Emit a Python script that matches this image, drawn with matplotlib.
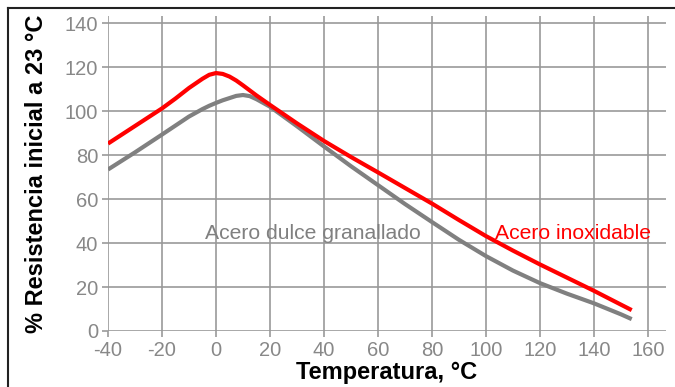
import numpy as np
import matplotlib
matplotlib.use("Agg")
import matplotlib.pyplot as plt
from matplotlib.lines import Line2D

plt.rcParams['font.family'] = ['Liberation Sans', 'DejaVu Sans']
plt.rcParams['axes.unicode_minus'] = False

# values
temp = [-40, -30, -20, -15, -10, -5, -2.5, 0, 2.5, 5, 7.5, 10, 12.5, 15, 20,
        30, 40, 50, 60, 70, 80, 90, 100, 110, 120, 130, 140, 150, 154]
inox = [85.3, 93.3, 101.3, 105.8, 110.6, 114.8, 116.6, 117.4, 117.0, 115.8,
        114.0, 111.8, 109.5, 107.2, 102.9, 94.5, 86.5, 79.2, 72.2, 65.1,
        58.0, 50.5, 43.2, 36.6, 30.3, 24.3, 18.3, 12.0, 9.5]
dulce = [73.5, 81.3, 89.4, 93.5, 97.6, 101.0, 102.5, 103.8, 105.0, 106.0,
         107.0, 107.4, 106.9, 105.5, 102.1, 93.2, 84.0, 75.0, 66.4, 57.8,
         49.6, 41.5, 34.1, 27.5, 21.8, 17.0, 12.6, 7.6, 5.4]
xticks = [-40, -20, 0, 20, 40, 60, 80, 100, 120, 140, 160]
yticks = [0, 20, 40, 60, 80, 100, 120, 140]

W, H = 675, 387
fig = plt.figure(figsize=(W/100, H/100), dpi=100)
ax = fig.add_axes([108/W, 1-331/H, (666-108)/W, (331-15.7)/H])

grid_c = '#999999'
ax.plot(temp, dulce, color='#808080', lw=3.0, solid_capstyle='butt',
        solid_joinstyle='round', zorder=3)
ax.plot(temp, inox, color='#ff0000', lw=3.0, solid_capstyle='butt',
        solid_joinstyle='round', zorder=4)

ax.set_xlim(-40, 166.7)
ax.set_ylim(0, 143.5)
ax.set_xticks(xticks)
ax.set_yticks(yticks)
ax.grid(True, color=grid_c, lw=1.2)
ax.set_axisbelow(True)
for s in ax.spines.values():
    s.set_visible(False)
ax.tick_params(colors=grid_c, labelcolor='#888888', length=4, width=1.2,
               labelsize=14.5, pad=3)

ax.text(-4.1, 44.5, 'Acero dulce granallado', color='#808080', fontsize=15.2,
        va='center', ha='left')
ax.text(103.3, 44.5, 'Acero inoxidable', color='#ff0000', fontsize=15.2,
        va='center', ha='left')

ax.set_xlabel('Temperatura, °C', fontsize=17, fontweight='bold', labelpad=1)
ax.set_ylabel('% Resistencia inicial a 23 °C', fontsize=17, fontweight='bold',
              labelpad=12)

# frame on the left and top of the picture
fig.add_artist(Line2D([8/W, 8/W], [0, 1-8/H], color='#222222', lw=1.5))
fig.add_artist(Line2D([8/W, 1], [1-8/H, 1-8/H], color='#222222', lw=1.5))

fig.savefig('out.png', dpi=100)
